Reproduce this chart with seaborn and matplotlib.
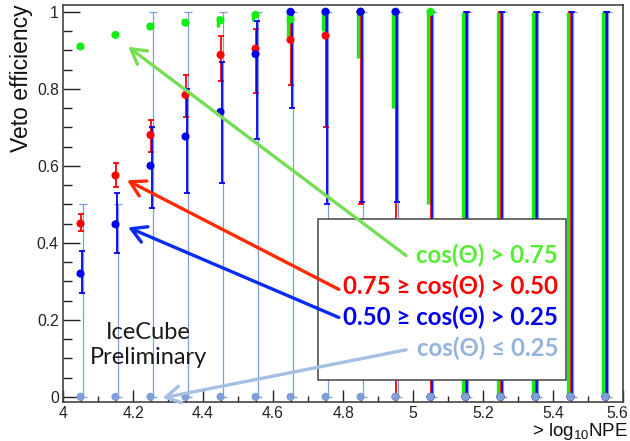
import numpy as np
import pandas as pd
import matplotlib
matplotlib.use('Agg')
import matplotlib.pyplot as plt
import matplotlib.transforms as mtransforms
from matplotlib.patches import Rectangle
from matplotlib.ticker import MultipleLocator
import seaborn as sns

# log10(NPE) bin centres
bins = [4.05, 4.15, 4.25, 4.35, 4.45, 4.55, 4.65, 4.75,
        4.85, 4.95, 5.05, 5.15, 5.25, 5.35, 5.45, 5.55]

labels = ['cos(Θ) > 0.75', '0.75 ≥ cos(Θ) > 0.50',
          '0.50 ≥ cos(Θ) > 0.25', 'cos(Θ) ≤ 0.25']

# cos > 0.75
eff_1 = [0.91, 0.94, 0.962, 0.972, 0.978, 0.992, 0.98, 1.0, 1.0, 1.0, 1.0, 0, 0, 0, 0, 0]
lo_1 = [0.905, 0.935, 0.955, 0.965, 0.96, 0.975, 0.935, 0.95, 0.88, 0.75, 0.50, 0, 0, 0, 0, 0]
hi_1 = [0.915, 0.945, 0.97, 0.98, 0.99, 1.0, 1.0, 1.0, 1.0, 1.0, 1.0, 1, 1, 1, 1, 1]

# 0.75 >= cos > 0.50
eff_2 = [0.45, 0.575, 0.68, 0.784, 0.888, 0.904, 0.927, 0.938, 1.0, 0, 0, 0, 0, 0, 0, 0]
lo_2 = [0.43, 0.546, 0.635, 0.728, 0.82, 0.79, 0.81, 0.70, 0.50, 0, 0, 0, 0, 0, 0, 0]
hi_2 = [0.475, 0.607, 0.72, 0.836, 0.938, 0.955, 1.0, 1.0, 1.0, 1, 1, 1, 1, 1, 1, 1]

# 0.50 >= cos > 0.25
eff_3 = [0.32, 0.448, 0.60, 0.676, 0.74, 0.89, 1.0, 1.0, 1.0, 1.0, 0, 0, 0, 0, 0, 0]
lo_3 = [0.27, 0.373, 0.49, 0.53, 0.556, 0.67, 0.75, 0.50, 0.505, 0.505, 0, 0, 0, 0, 0, 0]
hi_3 = [0.378, 0.53, 0.70, 0.80, 0.87, 0.975, 1.0, 1.0, 1.0, 1.0, 1, 1, 1, 1, 1, 1]

# cos <= 0.25
eff_4 = [0, 0, 0, 0, 0, 0, 0, 0, 0, 0, 0, 0, 0, 0, 0, 0]
lo_4 = [0, 0, 0, 0, 0, 0, 0, 0, 0, 0, 0, 0, 0, 0, 0, 0]
hi_4 = [0.5, 0.5, 1, 1, 1, 1, 1, 1, 1, 1, 1, 1, 1, 1, 1, 1]

point_colors = ['#11ee11', '#ff0000', '#0000ee', '#7f9fd8']
text_colors = ['#55ee33', '#ff0000', '#0000ee', '#95b3e0']
arrow_colors = ['#77dd55', '#ff2a00', '#0a2cf0', '#a5c0e2']

sns.set_theme(style='white')
plt.rcParams['font.family'] = ['Liberation Sans', 'DejaVu Sans']
plt.rcParams['mathtext.default'] = 'regular'

effs = [eff_1, eff_2, eff_3, eff_4]
los = [lo_1, lo_2, lo_3, lo_4]
his = [hi_1, hi_2, hi_3, hi_4]

df = pd.concat([pd.DataFrame({'logNPE': bins, 'eff': e, 'group': g})
                for e, g in zip(effs, labels)], ignore_index=True)

fig, ax = plt.subplots(figsize=(6.3, 4.41), dpi=100)
fig.subplots_adjust(left=0.1, right=0.989, bottom=0.088, top=0.989)

# error bars (small sideways shifts like the original)
bar_lw = [2.4, 1.3, 1.3, 0.9]
caps = [0, 2, 2, 3]
shift = [-2.0, 0.0, 1.0, 2.0]
zs = [2, 2.1, 2.2, 1.5]
for e, lo, hi, c, lw, cs, dx, z in zip(effs, los, his, point_colors, bar_lw, caps, shift, zs):
    e = np.array(e)
    yerr = [e - np.array(lo), np.array(hi) - e]
    eb = ax.errorbar(bins, e, yerr=yerr, fmt='none', ecolor=c, elinewidth=lw,
                     capsize=cs, capthick=lw, zorder=z)
    tr = ax.transData + mtransforms.ScaledTranslation(dx / 72, 0, fig.dpi_scale_trans)
    for art in list(eb.lines[1]) + list(eb.lines[2]):
        art.set_transform(tr)

sns.scatterplot(data=df, x='logNPE', y='eff', hue='group', palette=point_colors,
                s=34, edgecolor='none', legend=False, ax=ax, zorder=4)

ax.set_xlim(4, 5.6)
ax.set_ylim(-0.014, 1.018)
ax.xaxis.set_minor_locator(MultipleLocator(0.05))
ax.yaxis.set_minor_locator(MultipleLocator(0.05))
ax.set_xticks([4, 4.2, 4.4, 4.6, 4.8, 5, 5.2, 5.4, 5.6])
ax.set_xticklabels(['4', '4.2', '4.4', '4.6', '4.8', '5', '5.2', '5.4', '5.6'])
ax.set_yticks([0, 0.2, 0.4, 0.6, 0.8, 1])
ax.set_yticklabels(['0', '0.2', '0.4', '0.6', '0.8', '1'])
ax.tick_params(axis='both', which='both', direction='in', colors='#222222',
               labelsize=11.3, left=True, bottom=True)
ax.tick_params(axis='y', which='major', length=12.5, width=1, pad=3)
ax.tick_params(axis='y', which='minor', length=6.5, width=1)
ax.tick_params(axis='x', which='major', length=8.6, width=1, pad=3)
ax.tick_params(axis='x', which='minor', length=4.5, width=1)
for sp in ax.spines.values():
    sp.set_color('#444444')
    sp.set_linewidth(1.2)

# last x label sits right at the image edge; nudge it in a little
last = ax.get_xticklabels()[-1]
last.set_transform(last.get_transform() +
                   mtransforms.ScaledTranslation(-4 / 72, 0, fig.dpi_scale_trans))

ax.set_xlabel('> log$_{10}$NPE', loc='right', fontsize=13.5, color='#111111')
ax.xaxis.set_label_coords(1.009, -0.047)
ax.set_ylabel('Veto efficiency', loc='top', fontsize=16.5, labelpad=3, color='#111111')

# legend box with coloured labels
ax.add_patch(Rectangle((0.455, 0.055), 0.443, 0.406, transform=ax.transAxes,
                       facecolor='white', edgecolor='#444444', lw=1.1, zorder=5))
text_y = [0.370, 0.292, 0.214, 0.136]
for lab, c, ty in zip(labels, text_colors, text_y):
    ax.text(0.884, ty, lab, transform=ax.transAxes, ha='right', va='center',
            fontsize=17.3, fontweight='bold', color=c,
            family=['Lato', 'Noto Sans', 'DejaVu Sans'], zorder=7)

# arrows from labels to the curves
arrow_tips = [(4.186, 0.909), (4.183, 0.5625), (4.186, 0.44), (4.284, -0.003)]
arrow_tails = [(4.98, 0.367), (4.788, 0.279), (4.788, 0.206), (4.98, 0.122)]
for tip, tail, c in zip(arrow_tips, arrow_tails, arrow_colors):
    ax.annotate('', xy=tip, xytext=tail,
                arrowprops=dict(arrowstyle='->,head_length=0.7,head_width=0.4',
                                mutation_scale=15, lw=2.4, color=c,
                                shrinkA=0, shrinkB=0),
                zorder=6)

ax.text(0.152, 0.1436, 'IceCube\nPreliminary', transform=ax.transAxes,
        ha='center', va='center', fontsize=17, linespacing=1.25,
        color='#1a1a1a', family=['Lato', 'DejaVu Sans'], zorder=7)

fig.savefig('out.png', dpi=100)
